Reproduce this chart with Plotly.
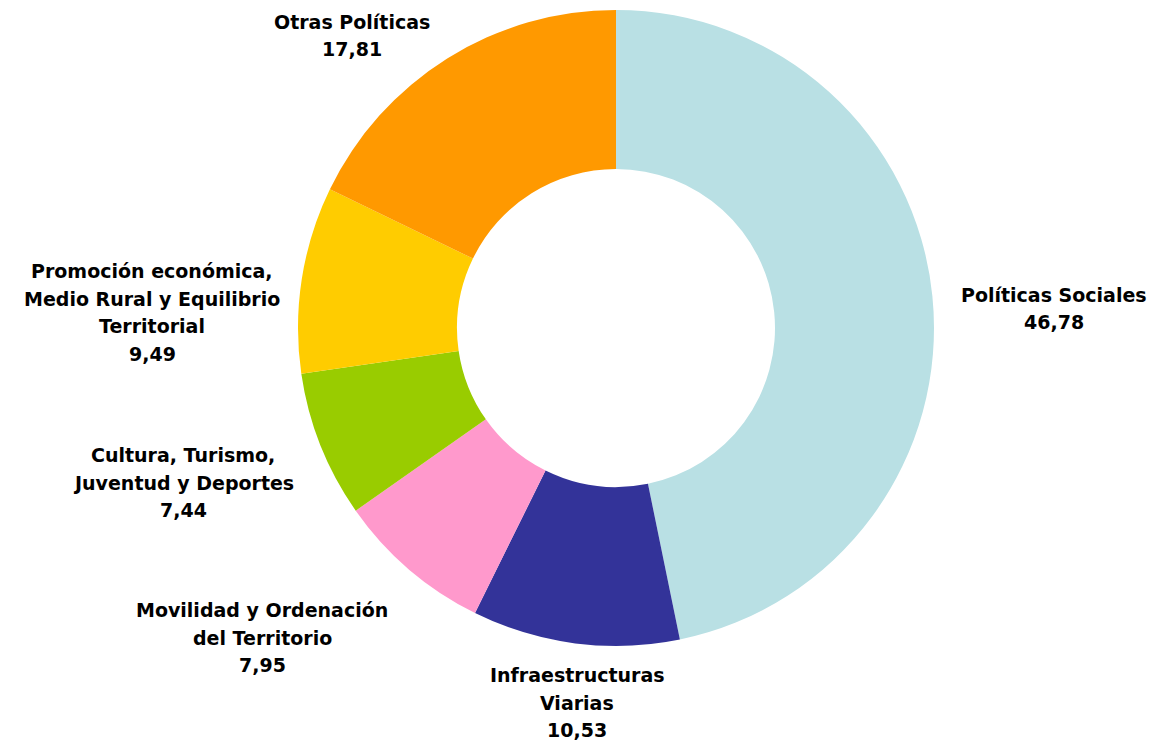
import plotly.graph_objects as go

# Data
categories = ["Políticas Sociales", "Infraestructuras Viarias", "Movilidad y Ordenación del Territorio",
              "Cultura, Turismo, Juventud y Deportes",
              "Promoción económica, Medio Rural y Equilibrio Territorial", "Otras Políticas"]
values = [46.78, 10.53, 7.95, 7.44, 9.49, 17.81]
colors = ["#B9E0E4", "#333399", "#FF99CC", "#99CC00", "#FFCC00", "#FF9900"]

# label text lines (category name split as in the original) and layout positions (pixels)
label_lines = [
    ["Políticas Sociales"],
    ["Infraestructuras", "Viarias"],
    ["Movilidad y Ordenación", "del Territorio"],
    ["Cultura, Turismo,", "Juventud y Deportes"],
    ["Promoción económica,", "Medio Rural y Equilibrio", "Territorial"],
    ["Otras Políticas"],
]
label_pos = [(1054, 295), (577, 675), (262, 610), (183, 455), (152, 271), (352, 22)]
LINE_H = 27.5
OFF = 8  # page body margin

W, H = 1158, 743
cx, cy, R = 616 - OFF, 328 - OFF, 318

fig = go.Figure(go.Pie(
    labels=categories, values=values, sort=False, direction="clockwise", rotation=0,
    hole=0.5, marker=dict(colors=colors, line=dict(width=0)),
    textinfo="none", hoverinfo="label+value",
    domain=dict(x=[(cx - R) / W, (cx + R) / W], y=[1 - (cy + R) / H, 1 - (cy - R) / H]),
))

anns = []
for lines, v, (px, py) in zip(label_lines, values, label_pos):
    all_lines = lines + [f"{v:.2f}".replace(".", ",")]
    for i, t in enumerate(all_lines):
        anns.append(dict(
            x=(px - OFF) / W, y=1 - (py - OFF + i * LINE_H) / H, xref="paper", yref="paper",
            text=f"<b>{t}</b>", showarrow=False, xanchor="center", yanchor="middle",
            font=dict(family="DejaVu Sans", size=19, color="#000000"),
        ))

fig.update_layout(
    width=W, height=H, margin=dict(l=0, r=0, t=0, b=0),
    paper_bgcolor="white", plot_bgcolor="white", showlegend=False,
    annotations=anns,
)
fig.write_html("out.html")
